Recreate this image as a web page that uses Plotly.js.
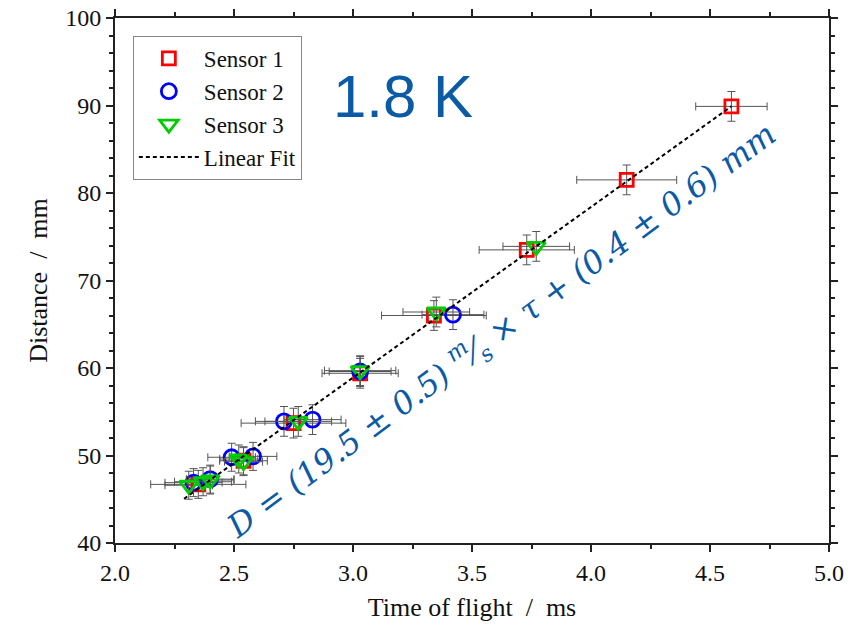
<!DOCTYPE html>
<html>
<head>
<meta charset="utf-8">
<script src="https://cdn.plot.ly/plotly-3.0.1.min.js"></script>
<style>
  html, body { margin: 0; padding: 0; background: #fff; }
  #chart { width: 858px; height: 631px; }
</style>
</head>
<body>
<div id="chart"></div>
<script>
// Time of flight (ms) and distance (mm) for each sensor, with uncertainties
const s1Time   = [2.35, 2.54, 2.75, 3.03, 3.34, 3.73, 4.15, 4.59];
const s1Dist   = [46.7, 49.4, 53.7, 59.4, 66.0, 73.5, 81.5, 89.9];
const s1TimeErr = [0.20, 0.10, 0.22, 0.16, 0.22, 0.20, 0.21, 0.15];
const s1DistErr = [1.6, 1.6, 1.7, 1.7, 1.7, 1.7, 1.7, 1.7];

const s2Time   = [2.33, 2.40, 2.49, 2.58, 2.71, 2.83, 3.03, 3.42];
const s2Dist   = [46.9, 47.3, 49.8, 49.9, 53.9, 54.1, 59.6, 66.1];
const s2TimeErr = [0.12, 0.10, 0.10, 0.10, 0.12, 0.12, 0.13, 0.13];
const s2DistErr = [1.6, 1.6, 1.6, 1.6, 1.7, 1.7, 1.7, 1.7];

const s3Time   = [2.31, 2.37, 2.40, 2.52, 2.54, 2.77, 3.03, 3.35, 3.77];
const s3Dist   = [46.6, 47.0, 47.2, 49.6, 49.3, 53.9, 59.7, 66.4, 73.9];
const s3TimeErr = [0.10, 0.12, 0.10, 0.08, 0.08, 0.14, 0.15, 0.14, 0.14];
const s3DistErr = [1.6, 1.6, 1.6, 1.6, 1.6, 1.7, 1.7, 1.7, 1.7];

// Linear fit D = slope * tau + intercept
const fitSlope = 19.5;
const fitIntercept = 0.4;
const fitRange = [2.29, 4.59];

const seriesNames = ['Sensor 1', 'Sensor 2', 'Sensor 3', 'Linear Fit'];
const xTitle = 'Time of flight  /  ms';
const yTitle = 'Distance  /  mm';
const tempLabel = '1.8 K';
const fitLabel = 'D = (19.5 ± 0.5) <sup>m</sup>⁄<sub>s</sub> × τ + (0.4 ± 0.6) mm';

const serif = '"Liberation Serif", "Times New Roman", serif';
const errColor = '#555555';

function errBars(arr) {
  return { type: 'data', array: arr, visible: true, color: errColor, thickness: 1, width: 4 };
}

const traces = [
  {
    type: 'scatter', mode: 'markers', name: seriesNames[0],
    x: s1Time, y: s1Dist,
    error_x: errBars(s1TimeErr), error_y: errBars(s1DistErr),
    marker: { symbol: 'square-open', size: 13, color: '#ff0000', line: { width: 2.8, color: '#ff0000' } }
  },
  {
    type: 'scatter', mode: 'markers', name: seriesNames[1],
    x: s2Time, y: s2Dist,
    error_x: errBars(s2TimeErr), error_y: errBars(s2DistErr),
    marker: { symbol: 'circle-open', size: 15, color: '#0000ff', line: { width: 2.8, color: '#0000ff' } }
  },
  {
    type: 'scatter', mode: 'markers', name: seriesNames[2],
    x: s3Time, y: s3Dist,
    error_x: errBars(s3TimeErr), error_y: errBars(s3DistErr),
    marker: { symbol: 'triangle-down-open', size: 16, color: '#00cc00', line: { width: 2.8, color: '#00cc00' } }
  },
  {
    type: 'scatter', mode: 'lines', name: seriesNames[3],
    x: fitRange,
    y: fitRange.map(t => fitSlope * t + fitIntercept),
    line: { color: '#000000', width: 2, dash: '4px,3px' }
  }
];

const axisCommon = {
  showline: true, linewidth: 2, linecolor: '#222222', mirror: 'ticks',
  ticks: 'outside', ticklen: 7, tickwidth: 2, tickcolor: '#222222',
  showgrid: false, zeroline: false,
  tickfont: { family: serif, size: 24, color: '#111111' },
};

const layout = {
  width: 858, height: 631,
  margin: { l: 115, r: 29, t: 18, b: 88 },
  paper_bgcolor: '#ffffff', plot_bgcolor: '#ffffff',
  showlegend: true,
  legend: {
    x: 0.025, y: 0.966, xanchor: 'left', yanchor: 'top',
    bordercolor: '#888888', borderwidth: 1, bgcolor: '#ffffff',
    font: { family: serif, size: 23, color: '#111111' },
    itemwidth: 60
  },
  xaxis: Object.assign({}, axisCommon, {
    range: [2.0, 5.0], dtick: 0.5, tick0: 2.0, tickformat: '.1f',
    minor: { dtick: 0.25, ticks: 'outside', ticklen: 4, tickwidth: 2, tickcolor: '#222222' },
    title: { text: xTitle, font: { family: serif, size: 26, color: '#111111' }, standoff: 13 }
  }),
  yaxis: Object.assign({}, axisCommon, {
    range: [40, 100], dtick: 10, tick0: 40,
    minor: { dtick: 2, ticks: 'outside', ticklen: 4, tickwidth: 2, tickcolor: '#222222' },
    title: { text: yTitle, font: { family: serif, size: 26, color: '#111111' }, standoff: 10 }
  }),
  annotations: [
    {
      xref: 'x', yref: 'y', x: 3.21, y: 91.0,
      text: tempLabel, showarrow: false,
      font: { family: '"Liberation Sans", Arial, sans-serif', size: 60, color: '#0b5aa5' }
    },
    {
      xref: 'x', yref: 'y', x: 3.62, y: 64.4,
      text: '<i>' + fitLabel + '</i>', showarrow: false, textangle: -36.5,
      font: { family: '"DejaVu Serif", "Liberation Serif", serif', size: 32, color: '#0b5aa5' }
    }
  ]
};

Plotly.newPlot('chart', traces, layout, { displayModeBar: false, staticPlot: true });
</script>
</body>
</html>
